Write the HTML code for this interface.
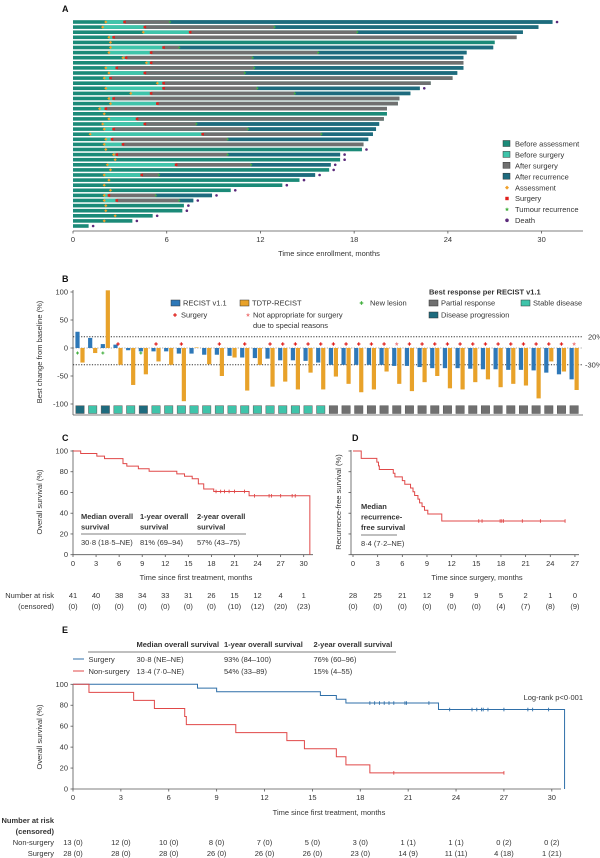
<!DOCTYPE html>
<html><head><meta charset="utf-8"><style>
html,body{margin:0;padding:0;background:#fff}
svg{display:block;font-family:"Liberation Sans",sans-serif}
text{font-size:7.5px;fill:#333}
</style></head><body>
<svg id="s" width="600" height="858" viewBox="0 0 600 858" xmlns="http://www.w3.org/2000/svg"></svg>
<script>
const S=document.getElementById('s');const NS='http://www.w3.org/2000/svg';
function el(t,a,txt){const e=document.createElementNS(NS,t);for(const k in a)e.setAttribute(k,a[k]);if(txt!==undefined)e.textContent=txt;S.appendChild(e);return e;}
function tx(x,y,s,o){o=o||{};const a={x:x,y:y};if(o.a)a['text-anchor']=o.a;let st='';if(o.b)st+='font-weight:bold;';if(o.fs)st+='font-size:'+o.fs+'px;';if(o.c)st+='fill:'+o.c+';';if(st)a.style=st;if(o.t)a.transform=o.t;return el('text',a,s);}
function ln(x1,y1,x2,y2,c,w,d){const a={x1:x1,y1:y1,x2:x2,y2:y2,stroke:c||'#555','stroke-width':w||0.8};if(d)a['stroke-dasharray']=d;return el('line',a);}
function rc(x,y,w,h,f,s){const a={x:x,y:y,width:w,height:h,fill:f};if(s){a.stroke=s;a['stroke-width']=0.5;}return el('rect',a);}
function dia(x,y,r,c){el('path',{d:`M${x} ${y-r}L${x+r} ${y}L${x} ${y+r}L${x-r} ${y}Z`,fill:c});}
function star(x,y,r,c){let d='';for(let i=0;i<10;i++){const rr=i%2?r*0.45:r;const a=-Math.PI/2+i*Math.PI/5;d+=(i?'L':'M')+(x+rr*Math.cos(a)).toFixed(2)+' '+(y+rr*Math.sin(a)).toFixed(2);}el('path',{d:d+'Z',fill:c});}
function cross(x,y,r,c){rc(x-r,y-r*0.35,2*r,r*0.7,c);rc(x-r*0.35,y-r,r*0.7,2*r,c);}
const C1='#1b8a78',C2='#3fc4aa',C3='#707070',C4='#1e6b7e',OR='#f0a02a',RD='#e0201c',GR='#44b040',PU='#5b2a7b';

// ===== Panel A
tx(62,12,'A',{b:1,fs:9,c:'#111'});
const AX0=73,AP=15.62;const ax=m=>AX0+m*AP;
const A=[[2.1,3.3,6.2,30.7,1],[1.9,4.6,12.9,29.8,0],[4.5,7.5,18.2,28.8,0],[2.3,2.6,0,28.4,0],[2.4,0,0,27.0,0],[2.4,5.8,6.8,26.9,0],[2.3,5.0,15.7,25.2,0],[3.2,3.4,11.5,25.0,0],[4.7,5.0,0,25.0,0],[2.1,2.8,11.6,25.0,0],[2.3,4.6,11.0,24.6,0],[2.0,2.4,0,24.3,0],[5.4,5.8,0,22.9,0],[2.1,5.8,11.8,22.2,1],[3.7,5.0,14.2,21.6,0],[2.3,2.6,0,20.9,0],[2.4,5.4,0,20.8,0],[1.7,2.1,0,20.1,0],[2.0,0,0,20.1,0],[2.3,4.1,0,19.9,0],[1.9,4.6,7.9,19.6,0],[2.0,2.6,11.2,19.4,0],[1.1,8.3,15.9,19.2,0],[2.1,2.5,9.9,18.9,0],[2.0,3.2,0,18.6,0],[2.1,0,0,18.5,1],[2.6,2.8,9.9,17.1,1],[2.7,0,0,17.1,1],[2.2,6.6,11.4,16.5,1],[2.4,0,0,16.4,1],[2.0,4.4,5.5,15.5,1],[2.3,0,0,14.5,1],[2.0,0,0,13.4,1],[2.4,0,0,10.1,1],[2.0,2.3,5.3,8.9,1],[2.0,2.8,6.8,7.7,1],[2.1,0,0,7.1,1],[2.1,0,0,7.0,1],[2.7,0,0,5.1,1],[2.0,0,0,3.8,1],[0,0,0,1.0,1]];
A.forEach((r,i)=>{const yc=22+i*5.1,h=3.6,y=yc-h/2;const [as,su,re,en,de]=r;
 rc(ax(0),y,ax(en)-ax(0),h,C1);
 if(su){rc(ax(as),y,ax(su)-ax(as),h,C2);const e2=re||en;rc(ax(su),y,ax(e2)-ax(su),h,C3);if(re)rc(ax(re),y,ax(en)-ax(re),h,C4);}
 if(as)dia(ax(as),yc,1.6,OR);if(su)rc(ax(su)-1.3,yc-1.3,2.6,2.6,RD);if(re)star(ax(re),yc,1.6,GR);
 if(de)el('circle',{cx:ax(en)+4.5,cy:yc,r:1.3,fill:PU});});
ln(73,231,583,231,'#555',0.8);
for(let m=0;m<=30;m+=6){ln(ax(m),231,ax(m),233.5);tx(ax(m),242,m,{a:'middle'});}
tx(329,256,'Time since enrollment, months',{a:'middle'});
const LA=[['Before assessment',C1,'r'],['Before surgery',C2,'r'],['After surgery',C3,'r'],['After recurrence',C4,'r'],['Assessment',OR,'d'],['Surgery',RD,'s'],['Tumour recurrence',GR,'t'],['Death',PU,'c']];
LA.forEach((l,i)=>{const y=144+i*10.9;if(l[2]=='r')rc(503,y-3.5,7,6,l[1],'#333');else if(l[2]=='d')dia(507,y,2,l[1]);else if(l[2]=='s')rc(505.3,y-1.7,3.4,3.4,l[1]);else if(l[2]=='t')star(507,y,2.2,l[1]);else el('circle',{cx:507,cy:y,r:1.8,fill:l[1]});tx(515,y+2.7,l[0]);});

// ===== Panel B
tx(62,282,'B',{b:1,fs:9,c:'#111'});
const by=v=>348-v*0.56;
ln(73,290,73,415);ln(73,415,583,415);
[100,50,0,-50,-100].forEach(v=>{ln(70.5,by(v),73,by(v));tx(68,by(v)+2.5,v,{a:'end'});});
tx(0,0,'Best change from baseline (%)',{a:'middle',t:'translate(42,352) rotate(-90)'});
ln(73,by(20),583,by(20),'#333',1,'1.2,1.5');ln(73,by(0),583,by(0),'#555',0.6,'1.2,1.5');ln(73,by(-30),583,by(-30),'#333',1,'1.2,1.5');
tx(588,by(20)+2.5,'20%');tx(585,by(-30)+2.5,'-30%');
const BB=[[29,-26],[18,-9],[7,103],[6,-30],[-4,-66],[-6,-47],[-6,-24],[-6,-30],[-10,-95],[-10,1],[-12,-29],[-12,-50],[-14,-17],[-17,-76],[-18,-30],[-19,-69],[-22,-60],[-22,-74],[-23,-44],[-26,-74],[-30,-51],[-30,-64],[-30,-79],[-30,-74],[-30,-42],[-32,-64],[-32,-77],[-34,-61],[-36,-50],[-36,-72],[-36,-74],[-37,-61],[-38,-56],[-38,-70],[-39,-64],[-39,-67],[-40,-90],[-44,-24],[-47,-42],[-56,-75]];
const BL='#2e78b8',BO='#e8a22a';
const red=[3,6,8,11,13,15,16,17,18,19,20,21,22,23,24,26,27,28,29,30,31,32,33,34,35,36,37,38];
BB.forEach((v,i)=>{const cx=80+i*12.67;
 const b=v[0],o=v[1];rc(cx-4.6,Math.min(by(0),by(b)),4.2,Math.abs(by(b)-by(0)),BL);rc(cx+0.4,Math.min(by(0),by(o)),4.2,Math.abs(by(o)-by(0)),BO);
 const sc=(i==0||i==2||i==5)?C4:(i<20?C2:C3);rc(cx-4.2,405.7,8.4,7.8,sc,'#555');
 if(red.includes(i))cross(cx,by(0)-4,1.7,RD);
 if(i==25||i==39)star(cx,by(0)-4,2.2,'#f08080');
 if(i==0||i==2||i==5)cross(cx-2.5,by(0)+5,1.5,GR);});
rc(171,300,9,6,BL,'#333');tx(183,305.5,'RECIST v1.1');
rc(240,300,9,6,BO,'#333');tx(252,305.5,'TDTP-RECIST');
cross(361.5,303,1.8,GR);tx(370,305.5,'New lesion');
cross(175,315,1.8,RD);tx(181,317.5,'Surgery');
star(248,315,2.2,'#f08080');tx(253,317.5,'Not appropriate for surgery');tx(253,328,'due to special reasons');
tx(429,294.5,'Best response per RECIST v1.1',{b:1});
rc(429,300,9,6,C3,'#333');tx(441,305.5,'Partial response');
rc(521,300,9,6,C2,'#333');tx(533,305.5,'Stable disease');
rc(429,312,9,6,C4,'#333');tx(441,317.5,'Disease progression');

// ===== Panel C
function km(xf,yf,steps,end,col,cens,drop){let d=`M${xf(0)} ${yf(steps[0][1])}`;for(let i=1;i<steps.length;i++){d+=`H${xf(steps[i][0])}V${yf(steps[i][1])}`;}d+=`H${xf(end)}`;if(drop)d+=`V${yf(0)}`;el('path',{d:d,fill:'none',stroke:col,'stroke-width':1});
 cens.forEach(c=>{ln(xf(c[0]),yf(c[1])-1.8,xf(c[0]),yf(c[1])+1.8,col,0.9);});}
tx(62,441,'C',{b:1,fs:9,c:'#111'});
const cx_=m=>73+m*7.69,cy_=v=>554.7-v*1.037;
ln(73,450,73,554.7);ln(73,554.7,313,554.7);
for(let v=0;v<=100;v+=20){ln(70.5,cy_(v),73,cy_(v));tx(68,cy_(v)+2.5,v,{a:'end'});}
for(let m=0;m<=30;m+=3){ln(cx_(m),554.7,cx_(m),557);tx(cx_(m),566,m,{a:'middle'});}
tx(0,0,'Overall survival (%)',{a:'middle',t:'translate(42,502) rotate(-90)'});
tx(196,580,'Time since first treatment, months',{a:'middle'});
km(cx_,cy_,[[0,100],[1,97.6],[3.1,95.1],[4.1,92.7],[6.5,87.8],[7,85.4],[8.5,82.9],[9.9,80.5],[13.5,78],[14.5,75.6],[15.5,73.2],[16.3,68.3],[17,63.4],[18.3,61],[22.9,56.8]],30.8,'#e04848',[[18.6,61],[19.2,61],[19.7,61],[20.3,61],[21,61],[22.3,61],[23.6,56.8],[25.5,56.8],[25.8,56.8],[27,56.8],[28.5,56.8],[28.9,56.8]],true);
tx(81,519,'Median overall',{b:1});tx(81,529.5,'survival',{b:1});tx(140,519,'1-year overall',{b:1});tx(140,529.5,'survival',{b:1});tx(197,519,'2-year overall',{b:1});tx(197,529.5,'survival',{b:1});
ln(81,534,246,534,'#555',0.7);
tx(81,545,'30·8 (18·5–NE)');tx(140,545,'81% (69–94)');tx(197,545,'57% (43–75)');
tx(54,598,'Number at risk',{a:'end'});tx(54,609,'(censored)',{a:'end'});
[[41,0],[40,0],[38,0],[34,0],[33,0],[31,0],[26,0],[15,10],[12,12],[4,20],[1,23]].forEach((r,i)=>{tx(cx_(i*3),598,r[0],{a:'middle'});tx(cx_(i*3),609,'('+r[1]+')',{a:'middle'});});

// ===== Panel D
tx(352,441,'D',{b:1,fs:9,c:'#111'});
const dx=m=>353+m*8.22;
ln(351,450,351,554.7);ln(351,554.7,579,554.7);
for(let v=0;v<=100;v+=20)ln(348.5,cy_(v),351,cy_(v));
for(let m=0;m<=27;m+=3){ln(dx(m),554.7,dx(m),557);tx(dx(m),566,m,{a:'middle'});}
tx(0,0,'Recurrence-free survival (%)',{a:'middle',t:'translate(341,502) rotate(-90)'});
tx(477,580,'Time since surgery, months',{a:'middle'});
km(dx,cy_,[[0,100],[1,92.9],[2.9,89.3],[3.1,85.7],[3.2,82.1],[4.9,78.6],[5.1,75],[6,71.4],[6.3,67.9],[7,64.3],[7.3,60.7],[7.5,57.1],[7.9,53.6],[8.1,50],[8.4,46.4],[8.7,42.9],[9.1,39.3],[10.8,32.5]],25.8,'#e04848',[[15.3,32.5],[15.7,32.5],[17.9,32.5],[18.1,32.5],[18.3,32.5],[20.6,32.5],[22.8,32.5],[25.8,32.5]],false);
tx(361,509,'Median',{b:1});tx(361,519.5,'recurrence-',{b:1});tx(361,530,'free survival',{b:1});
ln(361,535,397,535,'#555',0.7);tx(361,546,'8·4 (7·2–NE)');
[[28,0],[25,0],[21,0],[12,0],[9,0],[9,0],[5,4],[2,7],[1,8],[0,9]].forEach((r,i)=>{tx(dx(i*3),598,r[0],{a:'middle'});tx(dx(i*3),609,'('+r[1]+')',{a:'middle'});});

// ===== Panel E
tx(62,633,'E',{b:1,fs:9,c:'#111'});
tx(136.5,647,'Median overall survival',{b:1});tx(224,647,'1-year overall survival',{b:1});tx(313.5,647,'2-year overall survival',{b:1});
ln(88,652,396,652,'#555',0.7);
ln(73,659,84,659,'#2f6fa8',1);tx(88.5,662,'Surgery');tx(136.5,662,'30·8 (NE–NE)');tx(224,662,'93% (84–100)');tx(313.5,662,'76% (60–96)');
ln(73,671,84,671,'#e04848',1);tx(88.5,674,'Non-surgery');tx(136.5,674,'13·4 (7·0–NE)');tx(224,674,'54% (33–89)');tx(313.5,674,'15% (4–55)');
const ex=m=>73+m*15.96,ey=v=>789-v*1.047;
ln(73,684,73,789);ln(73,789,561,789);
for(let v=0;v<=100;v+=20){ln(70.5,ey(v),73,ey(v));tx(68,ey(v)+2.5,v,{a:'end'});}
for(let m=0;m<=30;m+=3){ln(ex(m),789,ex(m),791.5);tx(ex(m),800,m,{a:'middle'});}
tx(0,0,'Overall survival (%)',{a:'middle',t:'translate(42,737) rotate(-90)'});
tx(329,815,'Time since first treatment, months',{a:'middle'});
tx(583,700,'Log-rank p<0·001',{a:'end'});
const bc=[18.6,18.9,19.2,19.5,19.8,20.1,20.8,20.9,22.3].map(m=>[m,82.1]).concat([23.6,25,25.3,25.6,25.7,26,27,28.5,28.8,29.8].map(m=>[m,75.9]));
km(ex,ey,[[0,100],[7.8,96.4],[9,92.9],[15.5,89.3],[16.5,85.7],[17.1,82.1],[22.9,75.9]],30.8,'#2f6fa8',bc,true);
km(ex,ey,[[0,100],[1,92.3],[3.8,84.6],[5.1,76.9],[7,69.2],[7.1,61.5],[10.2,53.8],[13.4,46.2],[14.5,38.5],[16.5,30.8],[17.1,23.1],[18.6,15.4]],27,'#e04848',[[20.1,15.4],[27,15.4]],false);
tx(54,823,'Number at risk',{a:'end',b:1});tx(54,834,'(censored)',{a:'end',b:1});
tx(54,845,'Non-surgery',{a:'end'});tx(54,856,'Surgery',{a:'end'});
['13 (0)','12 (0)','10 (0)','8 (0)','7 (0)','5 (0)','3 (0)','1 (1)','1 (1)','0 (2)','0 (2)'].forEach((s,i)=>tx(ex(i*3),845,s,{a:'middle'}));
['28 (0)','28 (0)','28 (0)','26 (0)','26 (0)','26 (0)','23 (0)','14 (9)','11 (11)','4 (18)','1 (21)'].forEach((s,i)=>tx(ex(i*3),856,s,{a:'middle'}));
</script>
</body></html>
